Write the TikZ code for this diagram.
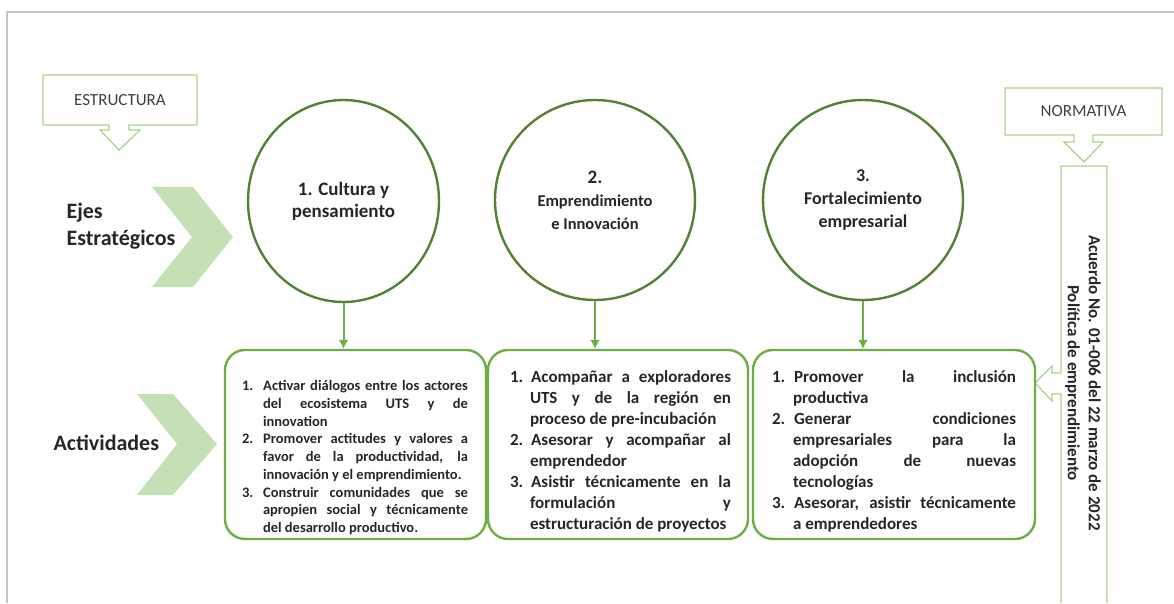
\documentclass[tikz,border=0pt]{standalone}
\usepackage{fontspec}
\setmainfont{Carlito}
\usepackage{enumitem}
\usetikzlibrary{arrows.meta, positioning, shapes.geometric}

\definecolor{anillo}{HTML}{548235}
\definecolor{verde}{HTML}{70AD47}
\definecolor{claro}{HTML}{C5E0B4}
\definecolor{borde}{HTML}{A9D18E}
\definecolor{texto}{HTML}{262626}
\definecolor{gris}{HTML}{404040}

\setlist[enumerate]{label=\arabic*., nosep, align=left, labelindent=0pt}
\hyphenpenalty=10000
\exhyphenpenalty=10000

\begin{document}
\begin{tikzpicture}[
  x=1pt, y=-1pt,
  eje/.style={circle, draw=anillo, line width=2.4pt, minimum size=200pt, inner sep=0pt, align=center, text=texto},
  actbox/.style={draw=verde, line width=2.4pt, rounded corners=20pt, minimum height=189pt, inner sep=0pt},
  lista/.style={text width=#1, inner sep=0pt, align=justify, text=texto},
  aviso/.style={draw=borde, line width=1.2pt, fill=white},
  rotulo/.style={text=gris, font=\fontsize{17}{20}\selectfont},
  flecha/.style={draw=verde, line width=2pt, -{Latex[length=9pt, width=10pt]}}
]
  \useasboundingbox (0,0) rectangle (1174,603);
  \draw[gray!45, line width=1.5pt] (7,603) -- (7,12) -- (1174,12);

  % Llamadas de estructura y normativa
  \draw[aviso] (43,75) -- (197,75) -- (197,125) -- (129,125) -- (129,130) -- (140,130)
    -- (119,150) -- (100,130) -- (109,130) -- (109,125) -- (43,125) -- cycle;
  \node[rotulo] (estructura) at (120,100) {ESTRUCTURA};
  \draw[aviso] (1005,88) -- (1162,88) -- (1162,135) -- (1093,135) -- (1093,142) -- (1103,142)
    -- (1084,162) -- (1064,142) -- (1074,142) -- (1074,135) -- (1005,135) -- cycle;
  \node[rotulo] (normativa) at (1083.5,111.5) {NORMATIVA};
  \draw[aviso] (1061,603) -- (1061,394) -- (1052,394) -- (1052,401) -- (1035,383)
    -- (1052,366) -- (1052,373) -- (1061,373) -- (1061,166) -- (1107,166) -- (1107,603);
  \node[rotate=-90, align=center, text=texto, font=\fontsize{17}{21}\selectfont\bfseries] (acuerdo) at (1083,383)
    {Acuerdo No. 01-006 del 22 marzo de 2022\\Política de emprendimiento};

  % Chevrones
  \fill[claro] (152,187) -- (193,187) -- (233,237) -- (193,287) -- (152,287) -- (192,237) -- cycle;
  \fill[claro] (137,394) -- (173,394) -- (217,444) -- (173,495) -- (137,495) -- (177,444) -- cycle;
  \node[anchor=west, align=left, text=texto, font=\fontsize{22}{27}\selectfont\bfseries] (ejes) at (63,226) {Ejes\\Estratégicos};
  \node[anchor=west, text=texto, font=\fontsize{22}{27}\selectfont\bfseries] (activ) at (50,443) {Actividades};

  % Ejes estrategicos
  \node[eje, ellipse, minimum width=191pt, minimum height=202pt, font=\fontsize{19}{22}\selectfont\bfseries] (c1) at (343.5,201) {1. Cultura y\\pensamiento};
  \node[eje, font=\fontsize{16.5}{23}\selectfont\bfseries] (c2) at (595,200) {{\fontsize{19}{23}\selectfont 2.}\\Emprendimiento\\e Innovación};
  \node[eje, font=\fontsize{18}{23}\selectfont\bfseries] (c3) at (863,200) {3.\\Fortalecimiento\\empresarial};

  % Actividades
  \node[actbox, minimum width=261pt] (act1) at (355.5,444.5) {};
  \node[actbox, minimum width=260pt] (act2) at (618,444.5) {};
  \node[actbox, minimum width=282pt] (act3) at (894,444.5) {};

  \node[lista=226pt, font=\fontsize{14.5}{17.75}\selectfont\bfseries] (txt1) at (355,454) {%
    \begin{enumerate}[leftmargin=21pt, labelsep=10pt, labelwidth=11pt]
      \item Activar diálogos entre los actores \linebreak del ecosistema UTS y de \linebreak innovation
      \item Promover actitudes y valores a \linebreak favor de la productividad, la \linebreak innovación y el emprendimiento.
      \item Construir comunidades que se \linebreak apropien social y técnicamente \linebreak del desarrollo productivo.
    \end{enumerate}};
  \node[lista=221pt, font=\fontsize{17}{21}\selectfont\bfseries] (txt2) at (620.5,446.5) {%
    \begin{enumerate}[leftmargin=20pt, labelsep=8pt, labelwidth=12pt]
      \item Acompañar a exploradores \linebreak UTS y de la región en \linebreak proceso de pre-incubación
      \item Asesorar y acompañar al \linebreak emprendedor
      \item Asistir técnicamente en la \linebreak formulación y \linebreak estructuración de proyectos
    \end{enumerate}};
  \node[lista=244pt, font=\fontsize{17}{21}\selectfont\bfseries] (txt3) at (894,447) {%
    \begin{enumerate}[leftmargin=21pt, labelsep=9pt, labelwidth=12pt]
      \item Promover la inclusión \linebreak productiva
      \item Generar condiciones \linebreak empresariales para la \linebreak adopción de nuevas \linebreak tecnologías
      \item Asesorar, asistir técnicamente \linebreak a emprendedores
    \end{enumerate}};

  % Conexiones
  \draw[flecha] (c1.south) -- (c1.south |- act1.north);
  \draw[flecha] (c2.south) -- (c2.south |- act2.north);
  \draw[flecha] (c3.south) -- (c3.south |- act3.north);
\end{tikzpicture}
\end{document}
